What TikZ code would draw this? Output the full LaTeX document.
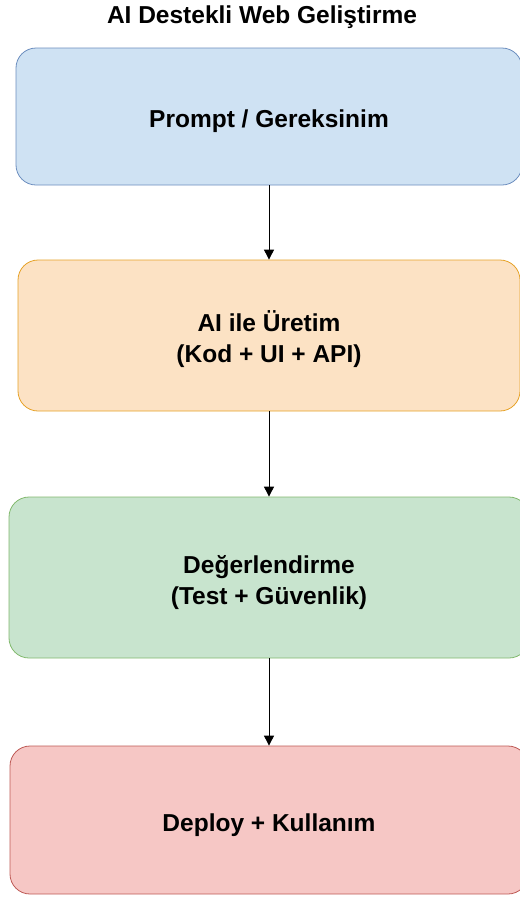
\documentclass[tikz,border=0pt]{standalone}
\usepackage{fontspec}
\setmainfont{Liberation Sans}
\usetikzlibrary{arrows.meta}
\definecolor{blueFill}{RGB}{207,226,243}
\definecolor{blueLine}{RGB}{108,142,191}
\definecolor{orangeFill}{RGB}{252,226,196}
\definecolor{orangeLine}{RGB}{230,162,40}
\definecolor{greenFill}{RGB}{200,228,206}
\definecolor{greenLine}{RGB}{130,185,110}
\definecolor{redFill}{RGB}{246,199,197}
\definecolor{redLine}{RGB}{190,90,86}

\tikzset{
    stage/.style={draw, rounded corners=20pt, line width=0.8pt, align=center,
        font=\bfseries\fontsize{24.5}{31}\selectfont, inner sep=0pt,
        text height=22.5pt, text depth=0pt},
    twoline/.style={text height=54.5pt},
    flow/.style={-{Triangle[length=10pt, width=10pt]}, line width=0.9pt}
}

\begin{document}
\begin{tikzpicture}[x=1pt, y=-1pt]
    \clip (0, 0) rectangle (520, 898);
    \useasboundingbox (0, 0) rectangle (520, 898);
    % Title
    \node[font=\bfseries\fontsize{24.5}{30}\selectfont] (title) at (262, 17) {AI Destekli Web Geliştirme};
    % Stages
    \node[stage, fill=blueFill, draw=blueLine, minimum width=506pt, minimum height=137pt]
        (prompt) at (269, 116.5) {Prompt / Gereksinim};
    \node[stage, twoline, fill=orangeFill, draw=orangeLine, minimum width=502pt, minimum height=151pt]
        (uretim) at (269, 335.5) {AI ile Üretim\\(Kod + UI + API)};
    \node[stage, twoline, fill=greenFill, draw=greenLine, minimum width=520pt, minimum height=161pt]
        (deger) at (269, 577.5) {Değerlendirme\\(Test + Güvenlik)};
    \node[stage, fill=redFill, draw=redLine, minimum width=518pt, minimum height=148pt]
        (deploy) at (269, 820) {Deploy + Kullanım};
    % Arrows
    \draw[flow] (prompt) -- (uretim);
    \draw[flow] (uretim) -- (deger);
    \draw[flow] (deger) -- (deploy);
\end{tikzpicture}
\end{document}
